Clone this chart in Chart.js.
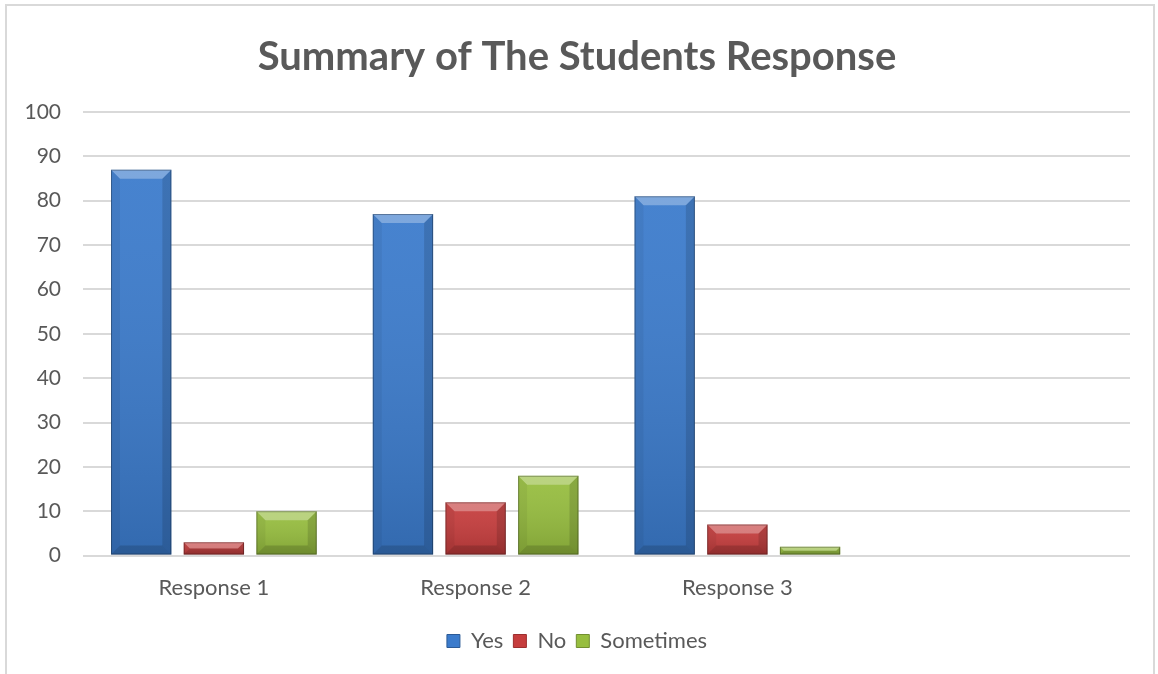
<!DOCTYPE html>
<html>
<head>
<meta charset="utf-8">
<script src="https://cdn.jsdelivr.net/npm/chart.js@4"></script>
<style>
  html, body { margin: 0; padding: 0; background: #fff; }
  #wrap { position: relative; width: 1158px; height: 674px; }
  #frame { position: absolute; left: 5px; top: 4px; width: 1150px; height: 680px;
           border: 2px solid #d9d9d9; box-sizing: border-box; }
  canvas { position: absolute; left: 0; top: 0; }
</style>
</head>
<body>
<div id="wrap">
  <div id="frame"></div>
  <canvas id="myChart" width="1158" height="674"></canvas>
</div>
<script>
// categories (last slot left empty on purpose)
const categories = ['Response 1', 'Response 2', 'Response 3', ''];
const yesValues = [87, 77, 81, null];
const noValues = [3, 12, 7, null];
const sometimesValues = [10, 18, 2, null];
const yTicks = [0, 10, 20, 30, 40, 50, 60, 70, 80, 90, 100];

// body colour and legend edge colour per series
const colors = {
  Yes: ['#3b7bcc', '#2c5a96'],
  No: ['#c63d3d', '#9c2e2e'],
  Sometimes: ['#97be3f', '#728f30']
};

function poly(ctx, pts, fill) {
  ctx.beginPath();
  ctx.moveTo(pts[0][0], pts[0][1]);
  for (let k = 1; k < pts.length; k++) ctx.lineTo(pts[k][0], pts[k][1]);
  ctx.closePath();
  ctx.fillStyle = fill;
  ctx.fill();
}

// bevelled look drawn over each bar
const bevel = {
  id: 'bevel',
  afterDatasetsDraw(chart) {
    const ctx = chart.ctx;
    ctx.save();
    chart.data.datasets.forEach((ds, i) => {
      chart.getDatasetMeta(i).data.forEach(bar => {
        if (bar.y == null || isNaN(bar.y)) return;
        const l = bar.x - bar.width / 2, r = bar.x + bar.width / 2;
        const t = bar.y, b = bar.base;
        if (b - t < 1) return;
        // slight darkening toward the base
        const g = ctx.createLinearGradient(0, t, 0, b);
        g.addColorStop(0, 'rgba(255,255,255,0.06)');
        g.addColorStop(1, 'rgba(0,0,0,0.14)');
        ctx.fillStyle = g;
        ctx.fillRect(l, t, r - l, b - t);
        const d = Math.min(9, (b - t) / 2, bar.width / 2);
        poly(ctx, [[l, t], [r, t], [r - d, t + d], [l + d, t + d]], 'rgba(255,255,255,0.30)');
        poly(ctx, [[l, t], [l + d, t + d], [l + d, b - d], [l, b]], 'rgba(0,0,0,0.05)');
        poly(ctx, [[r, t], [r - d, t + d], [r - d, b - d], [r, b]], 'rgba(0,0,0,0.13)');
        poly(ctx, [[l, b], [l + d, b - d], [r - d, b - d], [r, b]], 'rgba(0,0,0,0.15)');
        ctx.strokeStyle = 'rgba(0,0,0,0.3)';
        ctx.lineWidth = 1;
        ctx.strokeRect(l + 0.5, t + 0.5, r - l - 1, b - t - 1);
      });
    });
    ctx.restore();
  }
};

let ctx = document.getElementById('myChart').getContext('2d');
let chart = new Chart(ctx, {
  type: 'bar',
  data: {
    labels: categories,
    datasets: [
      { label: 'Yes', data: yesValues, backgroundColor: colors.Yes[0] },
      { label: 'No', data: noValues, backgroundColor: colors.No[0] },
      { label: 'Sometimes', data: sometimesValues, backgroundColor: colors.Sometimes[0] }
    ]
  },
  plugins: [bevel],
  options: {
    responsive: false,
    animation: false,
    categoryPercentage: 0.833,
    barPercentage: 0.83,
    layout: { padding: { left: 24, right: 28, top: 33, bottom: 12 } },
    plugins: {
      title: {
        display: true,
        text: 'Summary of The Students Response',
        color: '#595959',
        font: { family: 'Lato', size: 40, weight: 'bold' },
        padding: { top: 0, bottom: 31 }
      },
      legend: {
        position: 'bottom',
        labels: {
          color: '#595959',
          font: { family: 'Lato', size: 22 },
          boxWidth: 13,
          boxHeight: 13,
          padding: 10,
          generateLabels(chart) {
            return chart.data.datasets.map((ds, i) => ({
              text: ds.label,
              fillStyle: colors[ds.label][0],
              strokeStyle: colors[ds.label][1],
              lineWidth: 1,
              fontColor: '#595959',
              datasetIndex: i
            }));
          }
        }
      },
      tooltip: { enabled: false }
    },
    scales: {
      x: {
        grid: { display: false, drawTicks: false },
        border: { display: false },
        ticks: { color: '#595959', font: { family: 'Lato', size: 22 }, padding: 19 }
      },
      y: {
        min: 0,
        max: 100,
        afterBuildTicks(axis) { axis.ticks = yTicks.map(v => ({ value: v })); },
        afterFit(axis) { axis.width = 59; },
        grid: { color: '#d9d9d9', lineWidth: 2, drawTicks: false },
        border: { display: false },
        ticks: { color: '#595959', font: { family: 'Lato', size: 21 }, padding: 22 }
      }
    }
  }
});
</script>
</body>
</html>
